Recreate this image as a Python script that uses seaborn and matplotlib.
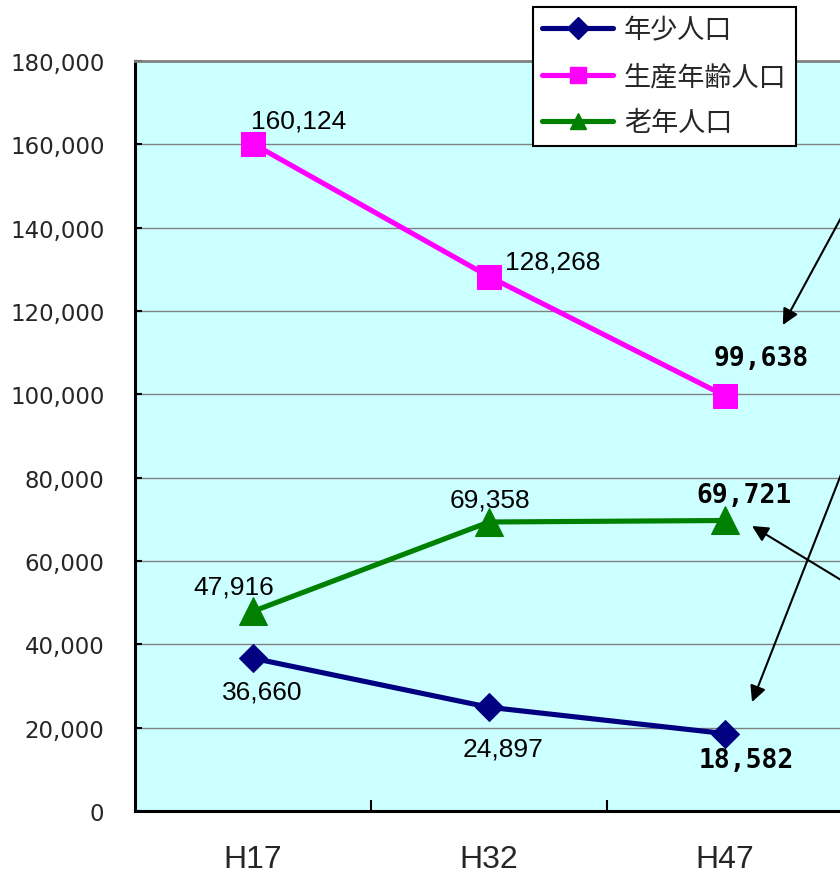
import matplotlib
matplotlib.use('Agg')
import matplotlib.pyplot as plt
from matplotlib.lines import Line2D
import seaborn as sns
import numpy as np

years = ['H17', 'H32', 'H47']
young = [36660, 24897, 18582]
working = [160124, 128268, 99638]
elderly = [47916, 69358, 69721]
series_names = ['年少人口', '生産年齢人口', '老年人口']
yticks = list(range(0, 180001, 20000))

sns.set_theme(style='white')
plt.rcParams['font.family'] = ['DejaVu Sans', 'Noto Sans CJK JP']

fig = plt.figure(figsize=(8.4, 8.78), dpi=100)
ax = fig.add_axes([135/840, 1-812/878, 708/840, 750/878])
ax.set_facecolor('#CCFFFF')
ax.set_axisbelow(True)
ax.yaxis.grid(True, color='#808080', lw=1)

pos = np.arange(len(years))
series = [
    (series_names[0], young, '#000080', 'D', 14),
    (series_names[1], working, '#FF00FF', 's', 17),
    (series_names[2], elderly, '#008000', '^', 20),
]
for name, vals, color, marker, ms in series:
    sns.lineplot(x=pos, y=vals, ax=ax, color=color, marker=marker, markersize=ms,
                 markeredgecolor=color, linewidth=3.7, legend=False, zorder=3)

ax.set_xlim(-0.5, 2.5)
ax.set_ylim(0, 180000)
ax.set_yticks(yticks)
ax.set_yticklabels([f'{v:,}' for v in yticks], fontsize=16.5, family='DejaVu Sans')
ax.tick_params(axis='y', direction='in', length=5, width=1.5, color='black', pad=22, left=True)
ax.set_xticks(pos)
ax.set_xticklabels(years, fontsize=23, family=['Liberation Sans'])
ax.tick_params(axis='x', which='major', length=0, pad=24)
ax.set_xticks([0.5, 1.5], minor=True)
ax.tick_params(axis='x', which='minor', direction='in', length=8, width=1.5, color='black', bottom=True)
ax.set_xlabel('')
ax.set_ylabel('')

for s in ['left', 'bottom']:
    ax.spines[s].set_color('black')
    ax.spines[s].set_linewidth(2.2)
ax.spines['top'].set_color('#808080')
ax.spines['top'].set_linewidth(2)
ax.spines['right'].set_visible(False)

# data labels (offsets in points)
normal_font = ['Liberation Sans']
labels = [
    (young, [(7, -24), (10, -30), (15, -19)]),
    (working, [(33, 17), (46, 11), (26, 27)]),
    (elderly, [(-14, 18), (1, 16), (14, 18)]),
]
for vals, offs in labels:
    for i, (v, off) in enumerate(zip(vals, offs)):
        if i == 2:
            ax.annotate(f'{v:,}', xy=(pos[i], v), xytext=off, textcoords='offset points',
                        ha='center', va='center', fontsize=19, fontweight='bold',
                        family='DejaVu Sans Mono', color='black')
        else:
            ax.annotate(f'{v:,}', xy=(pos[i], v), xytext=off, textcoords='offset points',
                        ha='center', va='center', fontsize=19,
                        family=normal_font, color='black')

# arrows from outside the frame
arrows = [
    ((0.915, 0.648), (1.003, 0.801)),
    ((0.8715, 0.1453), (1.003, 0.4627)),
    ((0.8715, 0.38), (1.003, 0.3047)),
]
for head, tail in arrows:
    ax.annotate('', xy=head, xytext=tail, xycoords='axes fraction', textcoords='axes fraction',
                arrowprops=dict(arrowstyle='-|>,head_length=0.6,head_width=0.3', color='black',
                                lw=1.5, mutation_scale=16, shrinkA=0, shrinkB=0),
                annotation_clip=False)

handles = [Line2D([0], [0], color=c, lw=3.7, marker=m, markersize=ms, markeredgecolor=c)
           for (c, m, ms) in [('#000080', 'D', 11), ('#FF00FF', 's', 11), ('#008000', '^', 12)]]
leg = fig.legend(handles, series_names, loc='upper left', bbox_to_anchor=(533/840, 1-8/878),
                 bbox_transform=fig.transFigure, borderaxespad=0, fancybox=False,
                 edgecolor='black', framealpha=1, prop={'family': 'Noto Sans CJK JP', 'size': 19.5},
                 handlelength=2.6, handletextpad=0.4, labelspacing=0.72, borderpad=0.35)
leg.get_frame().set_linewidth(1.5)

fig.savefig('out.png', dpi=100)
